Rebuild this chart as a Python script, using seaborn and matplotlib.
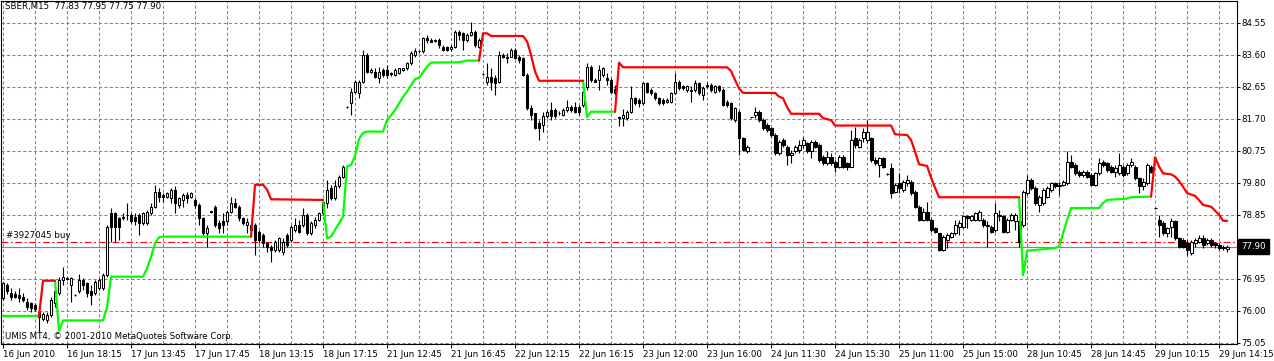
"""plot.py - SBER M15 candlestick chart with trailing-stop lines (MT4 style)."""

import matplotlib
matplotlib.use("Agg")
import matplotlib.pyplot as plt
import matplotlib.transforms as mtransforms
import numpy as np
import seaborn as sns

# ---------------------------------------------------------------------------
# Data (one value per M15 bar)
# ---------------------------------------------------------------------------

OPEN = [
    76.37, 76.76, 76.52, 76.50, 76.47, 76.42, 76.27, 76.22, 76.17, 75.97,   # 0
    75.75, 75.73, 75.87, 76.22, 76.52, 76.91, 76.96, 76.76, 76.48, 76.57,   # 10
    76.91, 76.81, 76.57, 76.52, 76.67, 76.67, 77.06, 78.89, 78.89, 78.74,   # 20
    78.74, 78.85, 78.84, 78.79, 78.84, 78.60, 78.60, 78.89, 79.09, 79.54,   # 30
    79.44, 79.39, 79.34, 79.59, 79.14, 79.29, 79.44, 79.39, 79.29, 79.14,   # 40
    78.74, 78.30, 78.95, 79.09, 78.60, 78.65, 78.65, 78.94, 79.19, 79.09,   # 50
    78.74, 78.55, 78.55, 78.55, 78.35, 78.25, 78.00, 77.90, 77.80, 77.80,   # 60
    77.75, 78.25, 78.10, 78.40, 78.55, 78.55, 78.84, 78.30, 78.55, 78.70,   # 70
    78.89, 79.19, 79.64, 79.34, 79.69, 79.98, 82.06, 82.16, 82.51, 82.46,   # 80
    82.80, 83.60, 83.10, 83.10, 82.90, 83.15, 83.15, 83.03, 83.00, 83.05,   # 90
    83.15, 83.20, 83.35, 83.60, 83.70, 83.70, 84.09, 84.04, 84.02, 84.04,   # 100
    83.84, 83.84, 83.77, 83.84, 84.29, 84.24, 84.04, 84.19, 84.29, 83.84,   # 110
    83.03, 82.80, 82.95, 82.90, 82.80, 83.60, 83.55, 83.55, 83.75, 83.55,   # 120
    83.50, 83.00, 82.01, 81.86, 81.57, 81.52, 81.77, 81.96, 81.96, 81.88,   # 130
    81.81, 81.96, 82.06, 82.06, 82.06, 82.11, 82.65, 83.25, 82.85, 82.85,   # 140
    83.00, 82.90, 82.85, 82.60, 81.75, 81.72, 81.72, 81.91, 82.31, 82.26,   # 150
    82.16, 82.75, 82.56, 82.46, 82.31, 82.26, 82.21, 82.21, 82.46, 82.80,   # 160
    82.66, 82.56, 82.56, 82.56, 82.75, 82.41, 82.66, 82.71, 82.51, 82.66,   # 170
    82.56, 82.21, 82.16, 81.67, 81.91, 81.12, 80.73, 81.74, 81.81, 81.91,   # 180
    81.67, 81.52, 81.42, 81.22, 80.68, 81.07, 80.87, 80.63, 80.73, 80.77,   # 190
    80.92, 80.97, 80.73, 81.02, 80.92, 80.58, 80.38, 80.58, 80.43, 80.28,   # 200
    80.58, 80.38, 80.28, 81.12, 80.87, 81.12, 81.07, 81.12, 80.48, 80.33,   # 210
    80.53, 80.06, 80.23, 79.54, 79.79, 79.59, 79.79, 79.83, 79.54, 79.09,   # 220
    78.70, 78.94, 78.70, 78.45, 78.30, 77.80, 78.10, 78.20, 78.30, 78.50,   # 230
    78.50, 78.80, 78.70, 78.70, 78.70, 78.70, 78.52, 78.50, 78.40, 78.84,   # 240
    78.80, 78.35, 78.70, 78.65, 78.65, 78.55, 79.49, 79.88, 79.64, 79.14,   # 250
    79.19, 79.39, 79.59, 79.79, 79.69, 79.74, 79.79, 80.43, 80.33, 80.13,   # 260
    80.03, 80.13, 80.03, 79.74, 80.08, 80.43, 80.38, 80.28, 80.13, 80.08,   # 270
    80.28, 80.08, 80.33, 80.28, 79.93, 79.69, 79.79, 80.28, 79.04, 78.70,   # 280
    78.60, 78.30, 78.50, 78.65, 78.15, 78.10, 78.00, 77.71, 78.00, 78.05,   # 290
    78.15, 78.00, 78.10, 78.00, 77.95, 77.90, 77.83,                        # 300
]

HIGH = [
    76.86, 76.81, 76.67, 76.57, 76.67, 76.52, 76.37, 76.27, 76.22, 76.02,
    75.97, 75.97, 76.42, 76.62, 77.01, 77.31, 77.01, 77.01, 76.50, 77.09,
    76.96, 76.86, 76.76, 76.91, 76.96, 77.11, 78.55, 79.04, 78.94, 78.79,
    78.89, 79.19, 78.89, 78.91, 78.89, 78.94, 78.99, 79.19, 79.73, 79.64,
    79.49, 79.54, 79.64, 79.69, 79.39, 79.49, 79.54, 79.54, 79.34, 79.19,
    78.79, 78.55, 78.97, 79.14, 78.70, 78.89, 78.99, 79.39, 79.34, 79.14,
    78.79, 78.74, 78.60, 78.60, 78.40, 78.30, 78.05, 77.95, 78.10, 78.20,
    78.15, 78.30, 78.55, 78.74, 78.70, 79.04, 78.89, 78.65, 78.79, 78.94,
    79.29, 79.88, 79.74, 79.88, 80.03, 80.33, 82.08, 82.61, 82.85, 82.85,
    83.75, 83.65, 83.20, 83.20, 83.25, 83.20, 83.30, 83.10, 83.20, 83.22,
    83.22, 83.40, 83.70, 83.79, 83.75, 84.14, 84.19, 84.09, 84.06, 84.09,
    83.89, 83.87, 83.89, 84.34, 84.34, 84.29, 84.24, 84.59, 84.34, 84.09,
    83.07, 83.35, 83.20, 83.00, 83.70, 83.65, 83.65, 83.79, 83.79, 83.60,
    83.55, 83.05, 82.11, 81.88, 81.67, 81.91, 81.96, 82.21, 82.01, 81.93,
    82.01, 82.26, 82.11, 82.21, 82.11, 82.56, 83.35, 83.30, 82.90, 83.30,
    83.25, 83.05, 82.90, 82.71, 81.77, 81.98, 81.96, 82.66, 82.36, 82.31,
    82.80, 82.80, 82.61, 82.51, 82.36, 82.31, 82.31, 82.51, 83.05, 82.85,
    82.71, 82.71, 82.66, 82.85, 82.80, 82.66, 82.80, 82.75, 82.71, 82.71,
    82.61, 82.26, 82.21, 82.06, 81.96, 81.17, 80.92, 81.76, 82.06, 81.96,
    81.72, 81.57, 81.47, 81.27, 81.07, 81.12, 80.92, 80.77, 80.92, 81.07,
    81.17, 81.02, 81.07, 81.07, 80.97, 80.63, 80.73, 80.68, 80.48, 80.63,
    80.63, 80.43, 81.37, 81.47, 81.12, 81.42, 81.67, 81.17, 80.58, 80.58,
    80.58, 80.08, 80.38, 79.79, 80.08, 79.88, 80.03, 79.88, 79.59, 79.14,
    79.04, 79.24, 78.75, 78.50, 78.32, 78.25, 78.30, 78.35, 78.70, 78.70,
    78.84, 78.84, 78.84, 78.94, 78.99, 78.75, 78.65, 78.55, 79.19, 78.99,
    78.84, 78.75, 78.89, 78.89, 78.70, 79.59, 80.03, 79.93, 79.69, 79.44,
    79.64, 79.69, 79.83, 79.83, 79.83, 79.88, 80.73, 80.63, 80.38, 80.18,
    80.18, 80.18, 80.08, 80.13, 80.53, 80.48, 80.43, 80.33, 80.33, 80.68,
    80.33, 80.38, 80.53, 80.33, 79.98, 79.93, 80.38, 80.33, 79.06, 78.84,
    78.65, 78.50, 78.75, 78.70, 78.20, 78.15, 78.10, 78.10, 78.15, 78.25,
    78.25, 78.15, 78.15, 78.05, 78.00, 77.95, 77.95,
]

LOW = [
    76.32, 76.50, 76.32, 76.37, 76.27, 76.27, 76.02, 75.97, 76.00, 75.33,
    75.68, 75.63, 75.82, 76.12, 76.47, 76.76, 76.91, 76.27, 76.44, 76.52,
    76.62, 76.42, 76.17, 76.47, 76.62, 76.62, 77.01, 78.05, 78.05, 78.10,
    78.70, 78.70, 78.60, 78.55, 78.25, 78.55, 78.55, 78.84, 79.04, 79.24,
    79.24, 79.34, 79.19, 78.89, 79.04, 79.09, 79.19, 79.34, 79.04, 78.55,
    78.25, 77.90, 78.91, 78.50, 78.30, 78.30, 78.55, 78.89, 79.04, 78.65,
    78.55, 78.30, 78.20, 77.66, 78.00, 77.90, 77.75, 77.46, 77.75, 77.75,
    77.66, 77.90, 78.05, 78.35, 78.30, 78.50, 78.25, 78.25, 78.45, 78.65,
    78.84, 79.04, 79.29, 79.29, 79.64, 79.93, 82.01, 81.81, 82.46, 82.31,
    82.75, 83.05, 83.05, 82.90, 82.75, 82.95, 82.90, 82.98, 82.97, 83.03,
    83.12, 83.15, 83.30, 83.55, 83.65, 83.65, 83.94, 83.99, 83.99, 83.79,
    83.70, 83.72, 83.70, 83.79, 84.04, 83.75, 83.99, 84.16, 83.84, 83.79,
    82.99, 82.71, 82.56, 82.41, 82.75, 83.50, 83.35, 83.53, 83.47, 83.35,
    82.97, 81.96, 81.67, 81.39, 81.07, 81.32, 81.72, 81.67, 81.72, 81.82,
    81.77, 81.91, 81.91, 81.86, 81.81, 82.06, 82.56, 82.80, 82.78, 82.56,
    82.95, 82.71, 82.46, 82.41, 81.50, 81.50, 81.67, 81.86, 82.11, 82.06,
    82.11, 82.46, 82.41, 82.26, 82.11, 82.11, 82.16, 82.16, 82.44, 82.56,
    82.56, 82.51, 82.21, 82.51, 82.41, 82.26, 82.61, 82.51, 82.46, 82.51,
    82.08, 82.06, 81.67, 81.62, 80.63, 80.73, 80.68, 81.72, 81.72, 81.62,
    81.37, 81.32, 81.17, 80.63, 80.63, 80.87, 80.33, 80.38, 80.68, 80.68,
    80.82, 80.68, 80.53, 80.82, 80.43, 80.33, 80.33, 80.33, 80.13, 80.23,
    80.23, 80.18, 80.26, 80.82, 80.82, 81.02, 80.97, 80.43, 80.33, 79.98,
    80.23, 80.04, 79.34, 79.49, 79.49, 79.54, 79.69, 79.44, 79.04, 78.65,
    78.65, 78.65, 78.35, 78.30, 77.76, 77.76, 77.85, 78.15, 78.25, 78.25,
    78.45, 78.45, 78.65, 78.65, 78.65, 78.50, 77.90, 78.30, 78.35, 78.65,
    78.30, 78.30, 78.65, 78.40, 77.90, 78.50, 79.44, 79.59, 79.14, 78.94,
    79.14, 79.34, 79.54, 79.64, 79.44, 79.69, 79.74, 80.23, 80.03, 79.98,
    79.98, 79.93, 79.69, 79.69, 80.03, 80.28, 80.13, 80.08, 79.98, 80.03,
    79.98, 80.03, 80.28, 79.88, 79.49, 79.59, 79.74, 80.08, 79.02, 78.20,
    78.25, 78.20, 78.20, 78.10, 77.85, 77.85, 77.66, 77.66, 77.90, 78.00,
    77.85, 77.95, 77.90, 77.85, 77.80, 77.80, 77.75,
]

CLOSE = [
    76.81, 76.57, 76.42, 76.42, 76.37, 76.32, 76.12, 76.07, 76.04, 75.82,
    75.90, 75.87, 76.32, 76.57, 76.91, 77.01, 76.93, 76.96, 76.46, 76.91,
    76.76, 76.52, 76.47, 76.86, 76.91, 77.06, 78.50, 78.50, 78.50, 78.50,
    78.79, 78.83, 78.65, 78.65, 78.60, 78.89, 78.94, 79.09, 79.54, 79.39,
    79.39, 79.49, 79.59, 79.19, 79.34, 79.44, 79.34, 79.49, 79.14, 78.74,
    78.30, 78.45, 78.93, 78.55, 78.45, 78.55, 78.94, 79.19, 79.09, 78.74,
    78.60, 78.62, 78.40, 78.10, 78.10, 78.00, 77.90, 77.80, 78.05, 78.15,
    78.05, 77.95, 78.50, 78.55, 78.35, 78.84, 78.30, 78.60, 78.70, 78.89,
    79.24, 79.59, 79.34, 79.69, 79.98, 80.28, 82.04, 82.51, 82.80, 82.80,
    83.60, 83.10, 83.15, 82.95, 83.10, 83.00, 83.00, 83.05, 83.15, 83.20,
    83.20, 83.35, 83.65, 83.70, 83.70, 84.09, 84.04, 83.99, 84.02, 83.89,
    83.75, 83.75, 83.84, 84.29, 84.19, 84.04, 84.19, 84.29, 83.89, 84.04,
    83.03, 82.95, 82.80, 82.75, 83.60, 83.55, 83.50, 83.75, 83.50, 83.45,
    83.00, 82.01, 81.81, 81.42, 81.42, 81.77, 81.91, 81.77, 81.77, 81.86,
    81.96, 82.06, 81.96, 81.91, 81.91, 82.51, 83.25, 82.85, 82.80, 83.15,
    83.20, 82.85, 82.51, 82.48, 81.73, 81.80, 81.91, 82.31, 82.16, 82.16,
    82.75, 82.51, 82.46, 82.31, 82.16, 82.16, 82.26, 82.46, 82.80, 82.61,
    82.61, 82.66, 82.54, 82.77, 82.46, 82.61, 82.71, 82.56, 82.66, 82.56,
    82.11, 82.11, 81.72, 82.01, 81.12, 80.77, 80.87, 81.74, 81.91, 81.67,
    81.42, 81.37, 81.22, 80.68, 81.02, 80.92, 80.63, 80.68, 80.87, 80.92,
    81.07, 80.73, 81.02, 80.87, 80.48, 80.38, 80.58, 80.38, 80.28, 80.58,
    80.28, 80.28, 81.07, 80.92, 81.07, 81.32, 81.32, 80.48, 80.38, 80.53,
    80.28, 80.06, 79.49, 79.74, 79.64, 79.83, 79.88, 79.49, 79.09, 78.70,
    78.94, 78.70, 78.40, 78.35, 77.80, 78.20, 78.25, 78.30, 78.55, 78.60,
    78.80, 78.75, 78.80, 78.89, 78.94, 78.55, 78.52, 78.35, 78.89, 78.80,
    78.35, 78.70, 78.84, 78.84, 78.05, 79.54, 79.88, 79.64, 79.19, 79.39,
    79.59, 79.64, 79.79, 79.69, 79.74, 79.83, 80.43, 80.28, 80.08, 80.03,
    80.13, 79.98, 79.74, 80.08, 80.38, 80.33, 80.18, 80.13, 80.23, 80.33,
    80.03, 80.33, 80.43, 79.93, 79.69, 79.83, 80.33, 80.13, 79.04, 78.55,
    78.30, 78.45, 78.65, 78.15, 77.90, 77.90, 77.80, 78.05, 78.10, 78.15,
    77.95, 78.10, 77.95, 77.95, 77.85, 77.87, 77.90,
]

# trailing-stop indicator: (bar, price) vertices, support = green, resistance = red
SUPPORT_SEGMENTS = [
    ([0, 9], [75.84, 75.84]),
    ([13, 14, 15, 25, 26, 27, 35, 36, 37, 38, 39, 40, 62],
     [76.89, 75.40, 75.71, 75.71, 76.10, 77.01, 77.01, 77.25, 77.60, 78.00, 78.18, 78.20, 78.20]),
    ([80, 81, 82, 83, 85, 86, 87, 88, 89, 90, 91, 95, 96, 97, 98, 100, 101, 103, 104, 106, 107, 114, 116, 119],
     [79.29, 78.15, 78.20, 78.40, 78.79, 80.28, 80.33, 80.60, 81.10, 81.28, 81.32, 81.32, 81.67, 81.80,
      81.96, 82.35, 82.51, 82.88, 82.92, 83.25, 83.37, 83.38, 83.43, 83.43]),
    ([145, 146, 147, 153], [82.83, 81.75, 81.91, 81.91]),
    ([254, 255, 256, 263, 264, 265, 266, 267, 274, 275, 276, 281, 282, 287],
     [79.37, 77.06, 77.78, 77.86, 77.90, 78.30, 78.70, 79.05, 79.05, 79.20, 79.29, 79.33, 79.37, 79.39]),
]

RESIST_SEGMENTS = [
    ([9, 10, 13], [75.84, 76.89, 76.89]),
    ([62, 63, 65, 66, 67, 80], [78.20, 79.74, 79.74, 79.60, 79.31, 79.29]),
    ([119, 120, 121, 122, 130, 131, 132, 133, 134, 145],
     [83.43, 84.24, 84.24, 84.16, 84.16, 84.00, 83.60, 83.10, 82.83, 82.83]),
    ([153, 154, 155, 181, 182, 183, 184, 185, 193, 194, 195, 196, 197, 204, 205, 207, 208,
      222, 223, 226, 227, 228, 229, 231, 232, 233, 234, 254],
     [81.91, 83.37, 83.23, 83.23, 83.12, 82.85, 82.60, 82.47, 82.47, 82.36, 82.31, 82.05, 81.85,
      81.85, 81.72, 81.66, 81.50, 81.50, 81.24, 81.22, 81.07, 80.72, 80.35, 80.30, 79.95, 79.65,
      79.37, 79.37]),
    ([287, 288, 289, 290, 292, 293, 294, 295, 296, 298, 299, 300, 302, 303, 304, 305, 306],
     [79.39, 80.56, 80.28, 80.08, 80.05, 79.98, 79.85, 79.68, 79.49, 79.41, 79.28, 79.14, 79.09,
      78.97, 78.85, 78.67, 78.67]),
]

TIME_LABELS = [
    "16 Jun 2010", "16 Jun 18:15", "17 Jun 13:45", "17 Jun 17:45", "18 Jun 13:15",
    "18 Jun 17:15", "21 Jun 12:45", "21 Jun 16:45", "22 Jun 12:15", "22 Jun 16:15",
    "23 Jun 12:00", "23 Jun 16:00", "24 Jun 11:30", "24 Jun 15:30", "25 Jun 11:00",
    "25 Jun 15:00", "28 Jun 10:45", "28 Jun 14:45", "29 Jun 10:15", "29 Jun 14:15",
]
PRICE_TICKS = [75.05, 76.00, 76.95, 77.90, 78.85, 79.80, 80.75, 81.70, 82.65, 83.60, 84.55]

BID = 77.90
ORDER_PRICE = 78.03
ORDER_LABEL = "#3927045 buy"
HEADER = "SBER,M15  77.83 77.95 77.75 77.90"
COPYRIGHT = "UMIS MT4, \u00a9 2001-2010 MetaQuotes Software Corp."

# ---------------------------------------------------------------------------
# Style
# ---------------------------------------------------------------------------

sns.set_style("white")
plt.rcParams["font.family"] = ["DejaVu Sans"]

GRID = "#778899"
FS = 6.2

W, H, DPI = 1274, 361, 100
fig = plt.figure(figsize=(W / DPI, H / DPI), dpi=DPI, facecolor="white")
# plot area: x 1..1236.7 px, y 1..344 px (from top)
ax = fig.add_axes([1 / W, (H - 344) / H, 1235.7 / W, 343 / H])
ax.set_facecolor("white")

bars = np.arange(len(CLOSE))
o, h, l, c = (np.array(a) for a in (OPEN, HIGH, LOW, CLOSE))
up = c >= o
body_lo = np.minimum(o, c)
body_h = np.maximum(np.abs(c - o), 0.012)

# wicks + bodies
ax.vlines(bars, l, h, color="black", linewidth=0.8, zorder=3)
ax.bar(bars[up], body_h[up], bottom=body_lo[up], width=0.72,
       color="white", edgecolor="black", linewidth=0.75, zorder=4)
ax.bar(bars[~up], body_h[~up], bottom=body_lo[~up], width=0.72,
       color="black", edgecolor="black", linewidth=0.75, zorder=4)

# indicator lines
for xs, ys in SUPPORT_SEGMENTS:
    sns.lineplot(x=xs, y=ys, ax=ax, color="#00FF00", linewidth=1.6,
                 sort=False, estimator=None, zorder=5)
for xs, ys in RESIST_SEGMENTS:
    sns.lineplot(x=xs, y=ys, ax=ax, color="#FF0000", linewidth=1.6,
                 sort=False, estimator=None, zorder=5)

# bid line and open-order line
ax.axhline(BID, color=GRID, linewidth=0.8, zorder=2.5)
ax.axhline(ORDER_PRICE, color="#FF0000", linewidth=0.8,
           linestyle=(0, (6, 2.5, 1.5, 2.5)), zorder=2.5)
ax.text(5 / 1235.7, ORDER_PRICE + 0.06, ORDER_LABEL,
        transform=mtransforms.blended_transform_factory(ax.transAxes, ax.transData),
        fontsize=FS, color="black", ha="left", va="bottom", zorder=6)

# axes / grid
ax.set_xlim(-0.5, 308.4)
ax.set_ylim(75.01, 85.20)

ax.set_xticks(np.arange(0, 16 * len(TIME_LABELS), 16))
ax.set_xticklabels(TIME_LABELS, ha="left")
ax.set_xticks(np.arange(0, 308, 8), minor=True)

ax.yaxis.tick_right()
ax.set_yticks(PRICE_TICKS)
ax.set_yticklabels(["" if abs(p - BID) < 1e-6 else f"{p:.2f}" for p in PRICE_TICKS])

grid_kw = dict(color=GRID, linewidth=0.75, linestyle=(0, (3, 2.2)))
ax.grid(True, which="both", axis="x", **grid_kw)
ax.grid(True, which="major", axis="y", **grid_kw)
ax.set_axisbelow(True)

ax.tick_params(axis="x", which="major", length=3, width=0.7, pad=1.5,
               labelsize=FS, colors="black", direction="out", bottom=True)
ax.tick_params(axis="x", which="minor", length=0)
ax.tick_params(axis="y", length=2, width=0.7, pad=1.5, labelsize=FS,
               colors="black", direction="out", right=True, left=False)
ax.set_xlabel("")
ax.set_ylabel("")

for side in ("left", "right", "top", "bottom"):
    ax.spines[side].set_visible(True)
    ax.spines[side].set_color("black")
    ax.spines[side].set_linewidth(0.8)

# current price tag on the price scale
ax.annotate(f"{BID:.2f}", xy=(1, BID),
            xycoords=mtransforms.blended_transform_factory(ax.transAxes, ax.transData),
            xytext=(3.2, 0), textcoords="offset points", ha="left", va="center",
            fontsize=FS, color="white", annotation_clip=False, zorder=10,
            bbox=dict(boxstyle="square,pad=0.35", facecolor="black", edgecolor="black"))

# chart header and footer texts
fig.text(5 / W, 1 - 2.5 / H, HEADER, fontsize=FS, color="black", ha="left", va="top")
fig.text(5 / W, (H - 341) / H, COPYRIGHT, fontsize=FS, color="black", ha="left", va="bottom")

fig.savefig("out.png", dpi=DPI, facecolor="white")
plt.close(fig)
